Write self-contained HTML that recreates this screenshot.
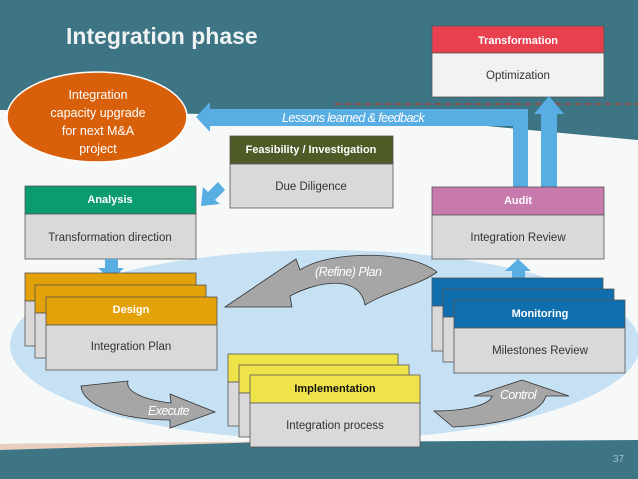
<!DOCTYPE html>
<html><head><meta charset="utf-8"><style>
body{margin:0;width:638px;height:479px;overflow:hidden;background:#f7f8f8}
svg{display:block}
text{font-family:"Liberation Sans",sans-serif}
.h{font-weight:bold;font-size:11px;fill:#fff;text-anchor:middle}
.b{font-size:11.5px;fill:#333;text-anchor:middle}
</style></head><body>
<svg width="638" height="479" viewBox="0 0 638 479">
<rect width="638" height="479" fill="#f7f8f8"/>
<polygon points="0,0 638,0 638,140 400,118 0,110" fill="#3d7585"/>
<text x="66" y="44" font-size="23" font-weight="bold" fill="#eef2f2">Integration phase</text>
<ellipse cx="325" cy="345" rx="315" ry="95" fill="#c6e1f3"/>
<polygon points="0,444 638,440 638,479 0,479" fill="#3d7585"/>
<polygon points="0,444 300,441 0,450" fill="#e8cfc0"/>
<text x="613" y="462" font-size="10" fill="#9fc0c8">37</text>
<line x1="335" y1="104" x2="638" y2="104" stroke="#c0392b" stroke-dasharray="6,4" stroke-width="1.3"/>
<rect x="432" y="26" width="172" height="27" fill="#e8404f" stroke="#555" stroke-width=".8"/>
<rect x="432" y="53" width="172" height="44" fill="#f2f2f2" stroke="#555" stroke-width=".8"/>
<text class="h" x="518" y="44">Transformation</text>
<text class="b" x="518" y="79">Optimization</text>
<polygon points="196,117 210,102 210,109 520,109 520,188 528,188 528,126 210,126 210,132" fill="#58ade2"/>
<rect x="513" y="109" width="15" height="79" fill="#58ade2"/>
<polygon points="541,188 541,114 534,114 549,96 564,114 557,114 557,188" fill="#58ade2"/>
<text x="282" y="122" font-size="12.5" font-style="italic" fill="#fff" letter-spacing="-.6">Lessons learned &amp; feedback</text>
<ellipse cx="97" cy="117" rx="90" ry="45" fill="#d9600b" stroke="#fff" stroke-width="1.5"/>
<g font-size="12.5" fill="#fff" text-anchor="middle"><text x="98" y="99">Integration</text><text x="98" y="117">capacity upgrade</text><text x="98" y="135">for next M&amp;A</text><text x="98" y="153">project</text></g>
<rect x="230" y="136" width="163" height="28" fill="#4e5b26" stroke="#555" stroke-width=".8"/>
<rect x="230" y="164" width="163" height="44" fill="#d9d9d9" stroke="#555" stroke-width=".8"/>
<text class="h" x="311" y="153">Feasibility / Investigation</text>
<text class="b" x="311" y="190">Due Diligence</text>
<polygon points="201,206 203,187 208,192 218,182 225,190 215,200 220,204" fill="#58ade2"/>
<rect x="25" y="186" width="171" height="28" fill="#0a9b70" stroke="#555" stroke-width=".8"/>
<rect x="25" y="214" width="171" height="45" fill="#d9d9d9" stroke="#555" stroke-width=".8"/>
<text class="h" x="110" y="203">Analysis</text>
<text class="b" x="110" y="241">Transformation direction</text>
<rect x="432" y="187" width="172" height="28" fill="#c97aad" stroke="#555" stroke-width=".8"/>
<rect x="432" y="215" width="172" height="44" fill="#d9d9d9" stroke="#555" stroke-width=".8"/>
<text class="h" x="518" y="204">Audit</text>
<text class="b" x="518" y="241">Integration Review</text>
<polygon points="105,259 118,259 118,268 124,268 111,280 98,268 105,268" fill="#58ade2"/>
<polygon points="512,280 525,280 525,271 531,271 518,259 505,271 512,271" fill="#58ade2"/>
<path d="M437,272 C410,250 330,250 300,270 L296,259 L225,307 L292,307 L290,296 C320,280 360,275 365,305 C390,290 420,285 437,272 Z" fill="#a6a6a6" stroke="#333" stroke-width=".8"/>
<text x="315" y="276" font-size="12.5" font-style="italic" fill="#fff" letter-spacing="-.5">(Refine) Plan</text>
<g stroke="#555" stroke-width=".8">
<rect x="25" y="273" width="171" height="28" fill="#e3a20a"/><rect x="25" y="301" width="171" height="45" fill="#d9d9d9"/>
<rect x="35" y="285" width="171" height="28" fill="#e3a20a"/><rect x="35" y="313" width="171" height="45" fill="#d9d9d9"/>
<rect x="46" y="297" width="171" height="28" fill="#e3a20a"/><rect x="46" y="325" width="171" height="45" fill="#d9d9d9"/>
</g>
<text class="h" x="131" y="313">Design</text>
<text class="b" x="131" y="350">Integration Plan</text>
<g stroke="#555" stroke-width=".8">
<rect x="432" y="278" width="171" height="28" fill="#0f6eae"/><rect x="432" y="306" width="171" height="45" fill="#d9d9d9"/>
<rect x="443" y="289" width="171" height="28" fill="#0f6eae"/><rect x="443" y="317" width="171" height="45" fill="#d9d9d9"/>
<rect x="454" y="300" width="171" height="28" fill="#0f6eae"/><rect x="454" y="328" width="171" height="45" fill="#d9d9d9"/>
</g>
<text class="h" x="540" y="317">Monitoring</text>
<text class="b" x="540" y="354">Milestones Review</text>
<g stroke="#555" stroke-width=".8">
<rect x="228" y="354" width="170" height="28" fill="#efe34a"/><rect x="228" y="382" width="170" height="44" fill="#d9d9d9"/>
<rect x="239" y="365" width="170" height="28" fill="#efe34a"/><rect x="239" y="393" width="170" height="44" fill="#d9d9d9"/>
<rect x="250" y="375" width="170" height="28" fill="#efe34a"/><rect x="250" y="403" width="170" height="44" fill="#d9d9d9"/>
</g>
<text x="335" y="392" font-size="11" font-weight="bold" fill="#111" text-anchor="middle">Implementation</text>
<text class="b" x="335" y="429">Integration process</text>
<path d="M81,386 L128,381 C125,392 145,400 171,403 L170,394 L215,412 L170,428 L170,420 C120,420 82,405 81,386 Z" fill="#a6a6a6" stroke="#333" stroke-width=".8"/>
<text x="148" y="415" font-size="12.5" font-style="italic" fill="#fff" letter-spacing="-.6">Execute</text>
<path d="M434,411 C465,411 490,405 492,396 L474,396 L522,380 L569,396 L546,396 C540,418 490,425 453,427 Z" fill="#a6a6a6" stroke="#333" stroke-width=".8"/>
<text x="500" y="399" font-size="12.5" font-style="italic" fill="#fff" letter-spacing="-.6">Control</text>
</svg>
</body></html>
